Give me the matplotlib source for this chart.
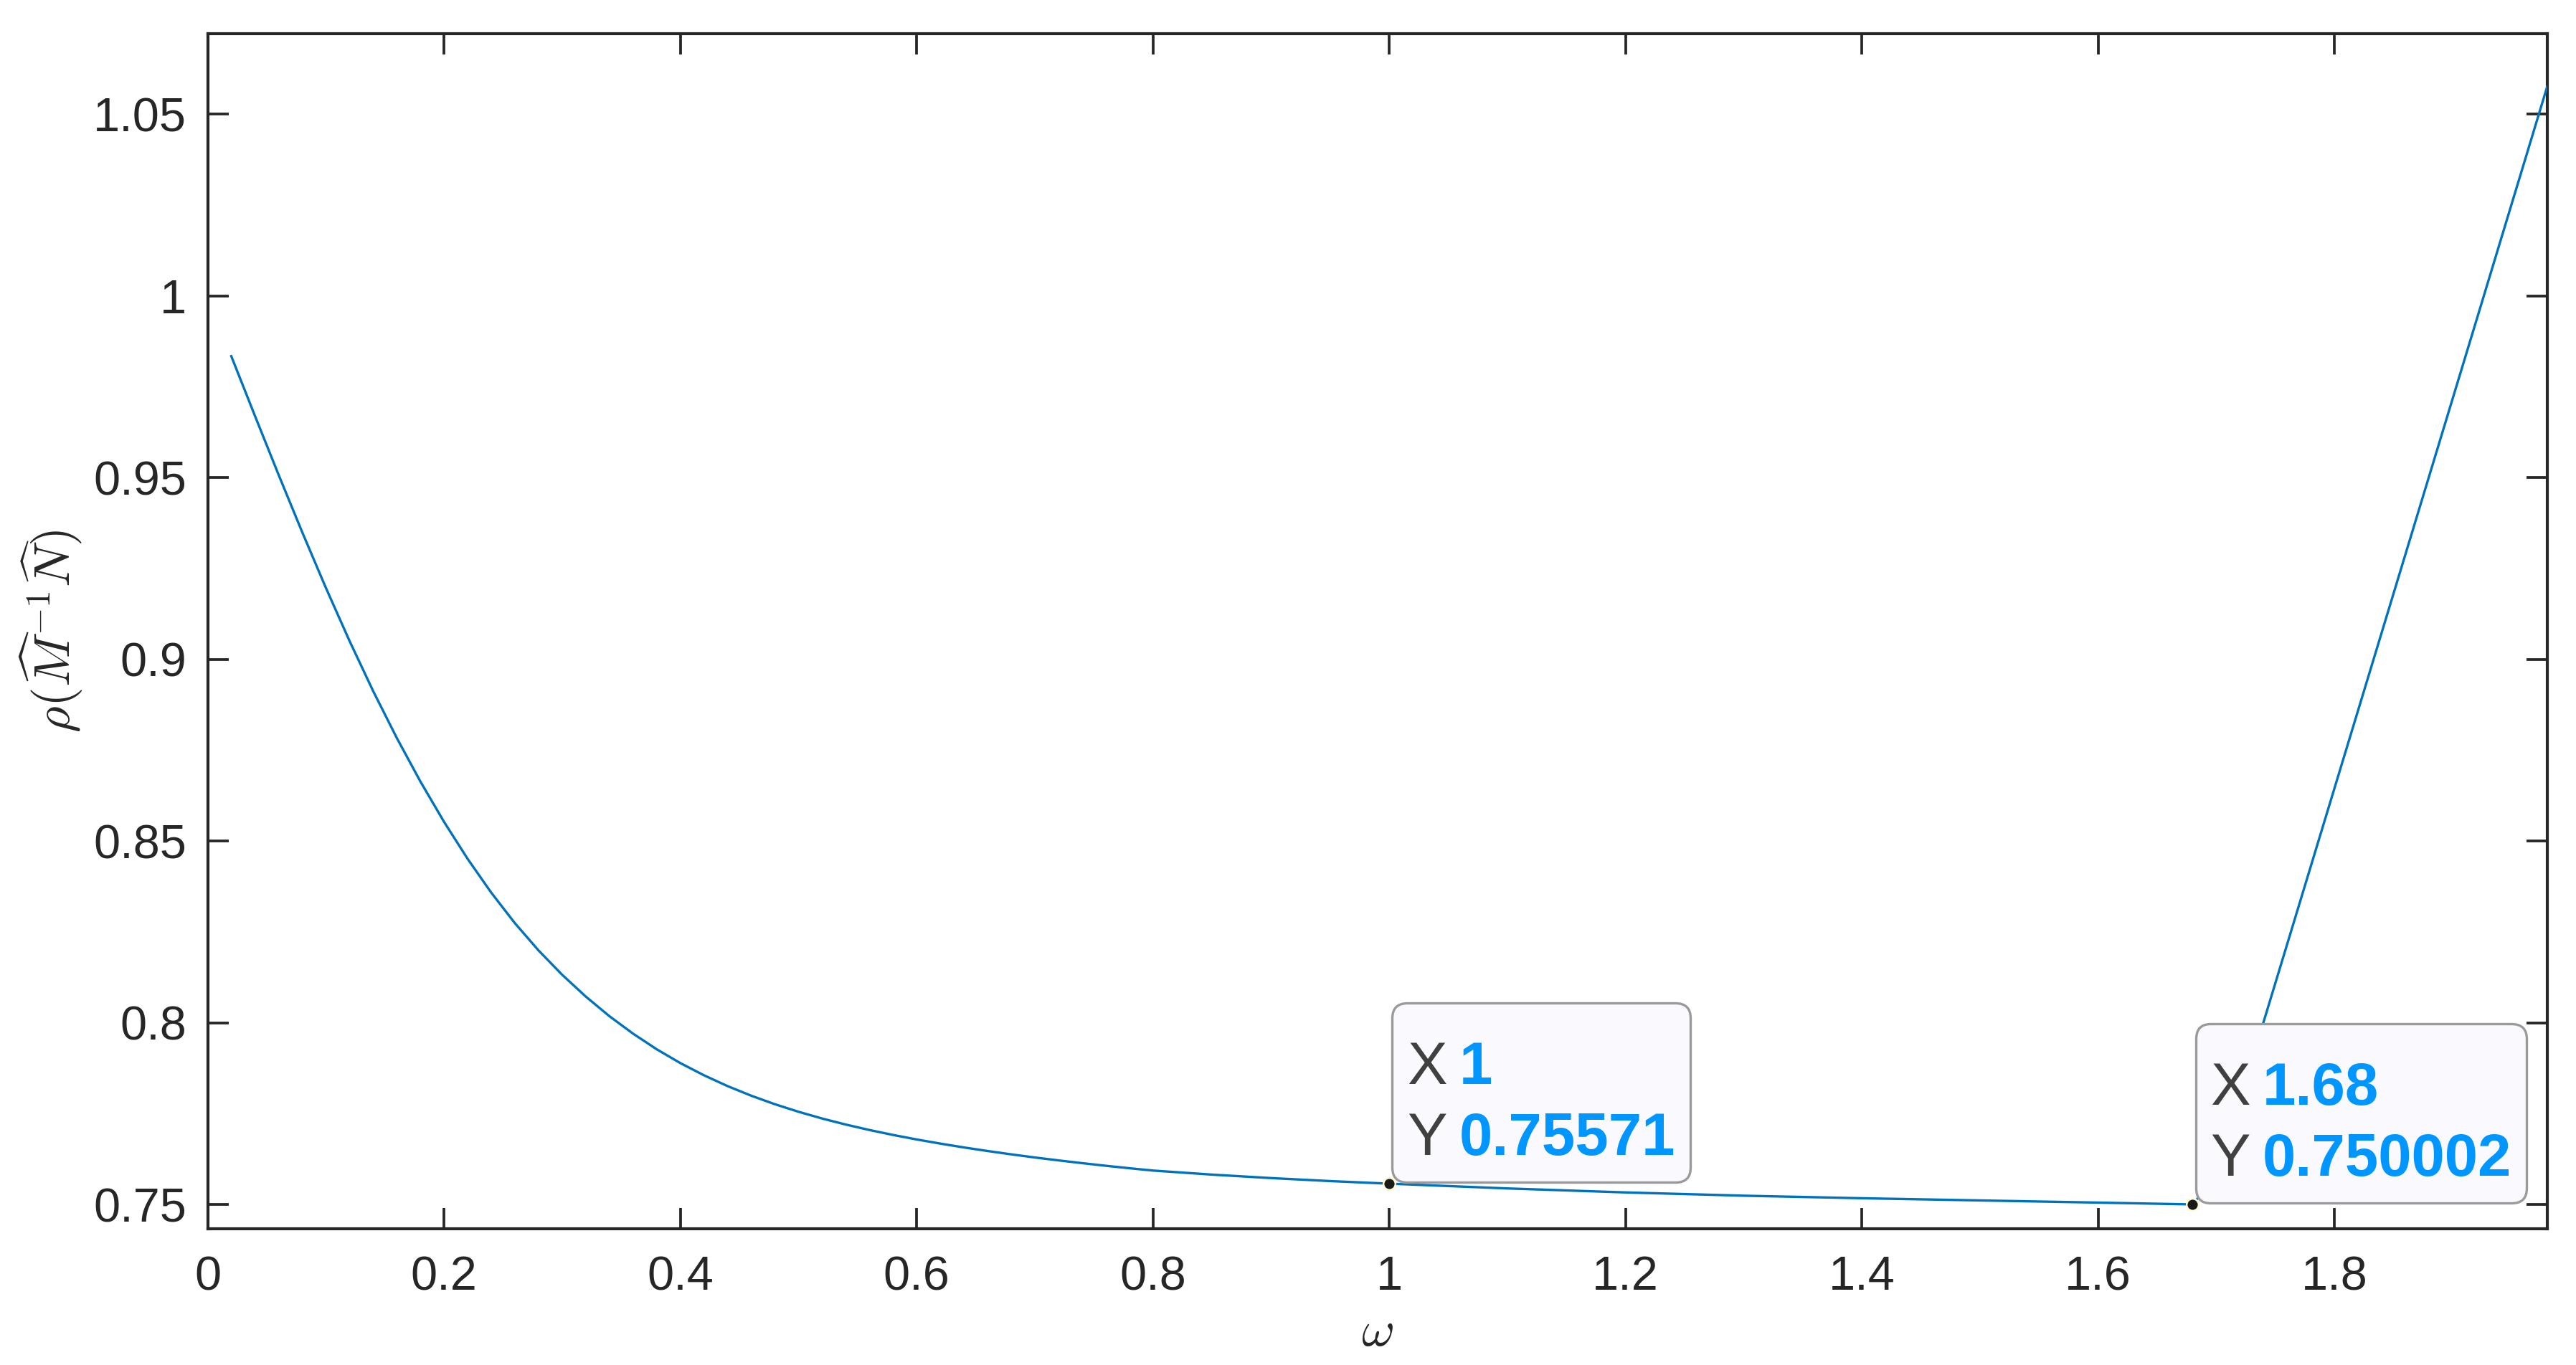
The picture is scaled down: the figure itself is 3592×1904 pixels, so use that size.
import matplotlib
matplotlib.use("Agg")
import matplotlib.pyplot as plt
from matplotlib.offsetbox import (TextArea, HPacker, VPacker, AnnotationBbox,
                                  DrawingArea)

# ---- data ----
omega = [0.02, 0.04, 0.06, 0.08, 0.10, 0.12, 0.14, 0.16, 0.18, 0.20, 0.22,
         0.24, 0.26, 0.28, 0.30, 0.32, 0.34, 0.36, 0.38, 0.40, 0.42, 0.44,
         0.46, 0.48, 0.50, 0.52, 0.54, 0.56, 0.58, 0.60, 0.62, 0.64, 0.66,
         0.68, 0.70, 0.72, 0.74, 0.76, 0.78, 0.80, 0.85, 0.90, 0.95, 1.00,
         1.10, 1.20, 1.30, 1.40, 1.50, 1.60, 1.68, 1.70, 1.74, 1.80, 1.86,
         1.92, 1.98]
rho = [0.9834, 0.9670, 0.9508, 0.9350, 0.9197, 0.9051, 0.8913, 0.8784,
       0.8664, 0.8553, 0.8451, 0.8358, 0.8274, 0.8199, 0.8132, 0.8072,
       0.8018, 0.7970, 0.7927, 0.7889, 0.78554, 0.78256, 0.77992, 0.77758,
       0.7755, 0.77364, 0.77198, 0.77048, 0.76912, 0.76788, 0.76674,
       0.76568, 0.7647, 0.76378, 0.76292, 0.76212, 0.76136, 0.76064,
       0.75996, 0.75932, 0.7582, 0.75725, 0.75642, 0.75571, 0.7544, 0.7533,
       0.7524, 0.7517, 0.7511, 0.7505, 0.750002, 0.7578, 0.8002, 0.8645,
       0.9288, 0.9931, 1.0575]
tip_x = [1.0, 1.68]
tip_y = [0.75571, 0.750002]
tip_xlabels = ["1", "1.68"]
tip_ylabels = ["0.75571", "0.750002"]
xticks = [0, 0.2, 0.4, 0.6, 0.8, 1.0, 1.2, 1.4, 1.6, 1.8]
xticklabels = ["0", "0.2", "0.4", "0.6", "0.8", "1", "1.2", "1.4", "1.6", "1.8"]
yticks = [0.75, 0.8, 0.85, 0.9, 0.95, 1.0, 1.05]
yticklabels = ["0.75", "0.8", "0.85", "0.9", "0.95", "1", "1.05"]

plt.rcParams['font.family'] = ['Liberation Sans', 'DejaVu Sans']
plt.rcParams['mathtext.fontset'] = 'cm'

W, H, DPI = 3592, 1904, 300
fig = plt.figure(figsize=(W / DPI, H / DPI), dpi=DPI)
ax = fig.add_axes([0.0806, 0.0998, 0.9888 - 0.0806, 0.9753 - 0.0998])

axc = '#262626'
ax.plot(omega, rho, color='#0072BD', lw=0.8, zorder=3)

ax.set_xlim(0, 1.98)
ax.set_ylim(0.7433, 1.0721)
ax.set_xticks(xticks)
ax.set_xticklabels(xticklabels)
ax.set_yticks(yticks)
ax.set_yticklabels(yticklabels)
for s in ax.spines.values():
    s.set_color(axc)
    s.set_linewidth(1.0)
ax.tick_params(direction='in', length=7, width=0.9, color=axc, labelcolor=axc,
               labelsize=16, top=True, right=True)
ax.tick_params(axis='x', pad=9)
ax.tick_params(axis='y', pad=7)

ax.set_xlabel(r'$\omega$', fontsize=17, color=axc, labelpad=3)
ax.set_ylabel(r'$\rho(\widehat{M}^{-1}\widehat{N})$', fontsize=17, color=axc,
              labelpad=3)

# ---- data tips ----
tip_size = 20
for xv, yv, xl, yl in zip(tip_x, tip_y, tip_xlabels, tip_ylabels):
    ax.plot([xv], [yv], 'o', ms=4, mfc='#1a1a1a', mec='#FFFBD0', mew=0.6,
            zorder=6)
    lp = dict(fontsize=tip_size, color='#404040')
    vp = dict(fontsize=tip_size, color='#0096FF', fontweight='bold')
    row1 = HPacker(children=[TextArea("X", textprops=lp),
                             TextArea(xl, textprops=vp)], sep=4, align='baseline')
    row2 = HPacker(children=[TextArea("Y", textprops=lp),
                             TextArea(yl, textprops=vp)], sep=4, align='baseline')
    spacer = DrawingArea(1, 2.5)
    box = VPacker(children=[spacer, row1, row2], sep=5, align='left', pad=0)
    ab = AnnotationBbox(box, (xv, yv), xybox=(6.0, 5.5), xycoords='data',
                        boxcoords='offset points', box_alignment=(0, 0),
                        pad=0.5, frameon=True, zorder=5,
                        bboxprops=dict(boxstyle='round,pad=0.5,rounding_size=0.5',
                                       fc='#F9F9FE', ec='#9A9A9A', lw=0.8))
    ax.add_artist(ab)

fig.savefig('out.png', dpi=DPI)
